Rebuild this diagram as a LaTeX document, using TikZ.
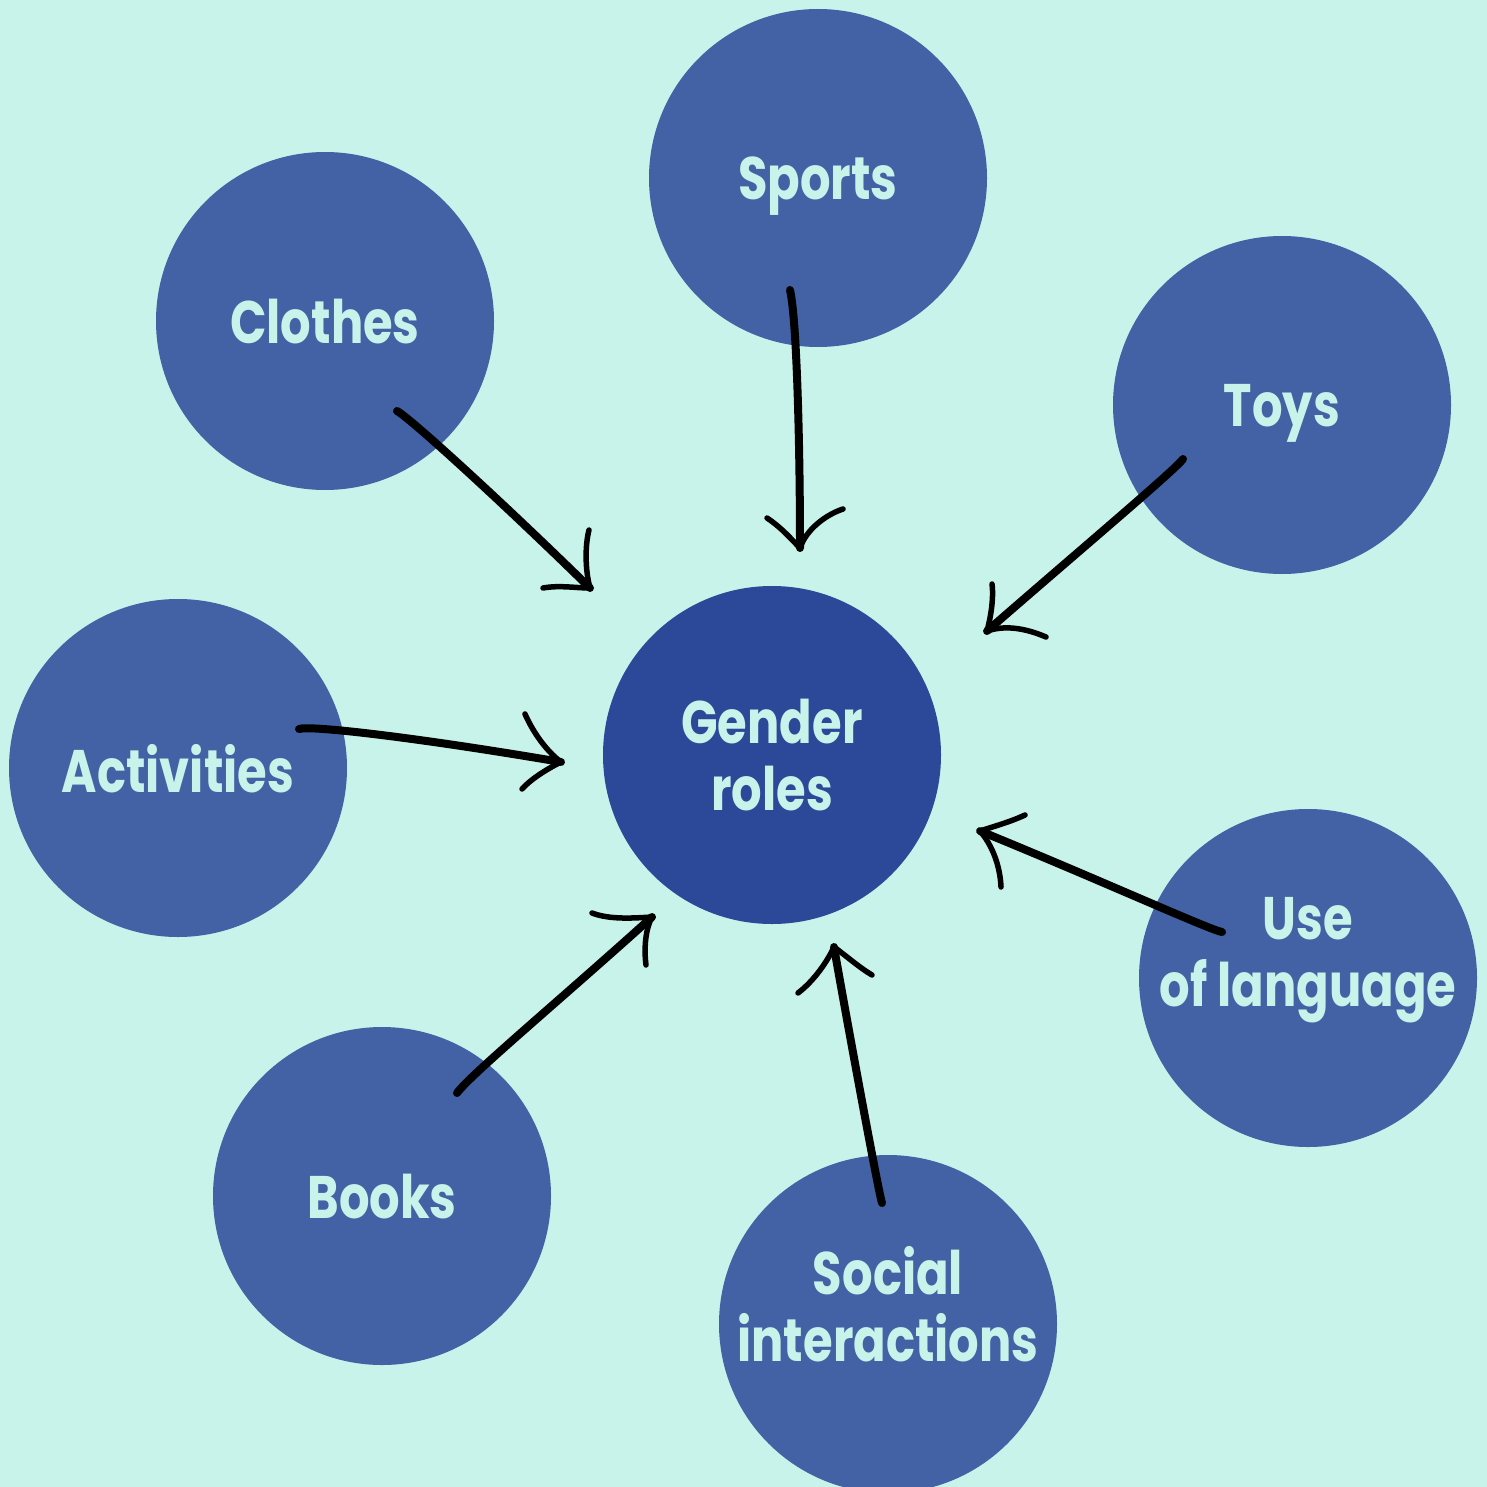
\documentclass[tikz,border=0pt]{standalone}
\usepackage{fontspec}
\setmainfont{Poppins}[FakeStretch=0.8]
\definecolor{bg}{HTML}{C8F3EA}
\definecolor{disc}{HTML}{4362A5}
\definecolor{hub}{HTML}{2C4898}
\definecolor{ink}{HTML}{C8F3EA}
\begin{document}
\begin{tikzpicture}[x=1pt,y=-1pt,
  lbl/.style={inner sep=0pt, text=ink, font=\fontsize{60}{67}\selectfont\bfseries, align=center},
  topic/.style={lbl, circle, fill=disc, minimum size=338pt},
  single/.style={text depth=0pt},
  shaft/.style={line width=8pt, line cap=round, line join=round},
  barb/.style={line width=5.5pt, line cap=round, line join=round}]
\fill[bg] (0,0) rectangle (1487,1487);
\useasboundingbox (0,0) rectangle (1487,1487);

% topic discs
\node[topic, single] (sports)     at (818,178)  {Sports};
\node[topic, single] (clothes)    at (325,321)  {Clothes};
\node[topic, single] (toys)       at (1282,405) {Toys};
\node[topic, single] (activities) at (178,768)  {Activities};
\node[topic, fill=hub] (gender)   at (772,755)  {Gender\\roles};
\node[topic] (language) at (1308,978) {};
\node[topic, single] (books)      at (382,1196) {Books};
\node[topic] (social) at (888,1324) {};

% two-line captions sitting above their disc centres
\node[lbl] (languageText) at ([yshift=18pt]language.center) {Use\\of language};
\node[lbl] (socialText) at ([yshift=20pt]social.center) {Social\\interactions};

% free ends of the hand-drawn arrows
\coordinate (sportsTail) at (790,290);   \coordinate (sportsTip) at (800,548);
\coordinate (sportsL) at (767,518);      \coordinate (sportsR) at (843,509);
\coordinate (clothesTail) at (397,411);  \coordinate (clothesTip) at (590,588);
\coordinate (clothesL) at (543,588);     \coordinate (clothesR) at (589,530);
\coordinate (toysTail) at (1183,459);    \coordinate (toysTip) at (987,631);
\coordinate (toysL) at (992,584);        \coordinate (toysR) at (1046,637);
\coordinate (actTail) at (299,729);      \coordinate (actTip) at (561,762);
\coordinate (actL) at (525,714);         \coordinate (actR) at (522,789);
\coordinate (langTail) at (1222,932);    \coordinate (langTip) at (980,831);
\coordinate (langL) at (1025,815);       \coordinate (langR) at (1001,887);
\coordinate (booksTail) at (457,1093);   \coordinate (booksTip) at (652,917);
\coordinate (booksL) at (592,913);       \coordinate (booksR) at (646,965);
\coordinate (socialTail) at (882,1203);  \coordinate (socialTip) at (834,947);
\coordinate (socialL) at (798,993);      \coordinate (socialR) at (872,975);

% shafts
\draw[shaft] (sportsTail) .. controls (797,320) and (800,450) .. (sportsTip);
\draw[shaft] (clothesTail) .. controls (410,418) and (500,500) .. (clothesTip);
\draw[shaft] (toysTail) .. controls (1175,470) and (1080,550) .. (toysTip);
\draw[shaft] (actTail) .. controls (310,725) and (420,738) .. (actTip);
\draw[shaft] (langTail) .. controls (1210,930) and (1100,880) .. (langTip);
\draw[shaft] (booksTail) .. controls (470,1075) and (560,1000) .. (booksTip);
\draw[shaft] (socialTail) .. controls (878,1190) and (845,1010) .. (socialTip);

% arrow heads
\draw[barb] (sportsL) .. controls (782,528) and (792,540) .. (sportsTip)
            .. controls (806,530) and (825,515) .. (sportsR);
\draw[barb] (clothesL) .. controls (560,585) and (575,588) .. (clothesTip)
            .. controls (585,570) and (585,545) .. (clothesR);
\draw[barb] (toysL) .. controls (994,600) and (990,620) .. (toysTip)
            .. controls (1005,625) and (1025,628) .. (toysR);
\draw[barb] (actL) .. controls (532,730) and (545,750) .. (actTip)
            .. controls (545,770) and (530,780) .. (actR);
\draw[barb] (langL) .. controls (1010,822) and (995,826) .. (langTip)
            .. controls (992,845) and (1000,865) .. (langR);
\draw[barb] (booksL) .. controls (610,920) and (635,918) .. (booksTip)
            .. controls (645,930) and (644,950) .. (booksR);
\draw[barb] (socialL) .. controls (815,980) and (828,960) .. (socialTip)
            .. controls (845,955) and (860,968) .. (socialR);
\end{tikzpicture}
\end{document}
